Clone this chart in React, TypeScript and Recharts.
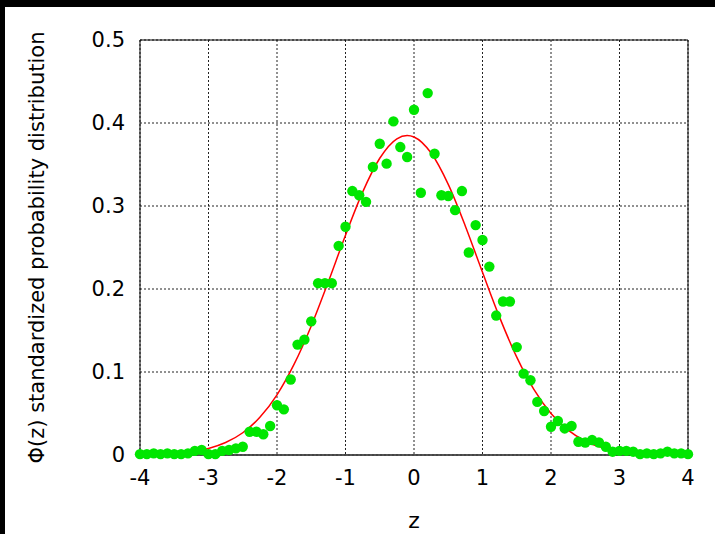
import React from "react";
import {
  ComposedChart,
  XAxis,
  YAxis,
  CartesianGrid,
  Scatter,
  Line,
  ReferenceArea,
} from "recharts";

// sampled points (z, phi)
const sampleZ = [
  -4.0, -3.9, -3.8, -3.7, -3.6, -3.5, -3.4, -3.3, -3.2, -3.1,
  -3.0, -2.9, -2.8, -2.7, -2.6, -2.5, -2.4, -2.3, -2.2, -2.1,
  -2.0, -1.9, -1.8, -1.7, -1.6, -1.5, -1.4, -1.3, -1.2, -1.1,
  -1.0, -0.9, -0.8, -0.7, -0.6, -0.5, -0.4, -0.3, -0.2, -0.1,
  0.0, 0.1, 0.2, 0.3, 0.4, 0.5, 0.6, 0.7, 0.8, 0.9,
  1.0, 1.1, 1.2, 1.3, 1.4, 1.5, 1.6, 1.7, 1.8, 1.9,
  2.0, 2.1, 2.2, 2.3, 2.4, 2.5, 2.6, 2.7, 2.8, 2.9,
  3.0, 3.1, 3.2, 3.3, 3.4, 3.5, 3.6, 3.7, 3.8, 3.9, 4.0,
];
const samplePhi = [
  0.001, 0.001, 0.002, 0.001, 0.002, 0.001, 0.001, 0.002, 0.005, 0.006,
  0.001, 0.001, 0.005, 0.006, 0.008, 0.010, 0.028, 0.028, 0.025, 0.035,
  0.060, 0.055, 0.091, 0.133, 0.139, 0.161, 0.207, 0.207, 0.207, 0.252,
  0.275, 0.318, 0.313, 0.305, 0.347, 0.375, 0.351, 0.402, 0.371, 0.359,
  0.416, 0.316, 0.436, 0.363, 0.313, 0.312, 0.295, 0.318, 0.244, 0.277,
  0.259, 0.227, 0.168, 0.185, 0.185, 0.130, 0.098, 0.090, 0.064, 0.053,
  0.034, 0.041, 0.032, 0.035, 0.016, 0.015, 0.018, 0.015, 0.010, 0.004,
  0.005, 0.005, 0.004, 0.001, 0.002, 0.001, 0.002, 0.004, 0.002, 0.002, 0.001,
];

// fitted curve
const fitZ = [
  -4.0, -3.75, -3.5, -3.25, -3.0, -2.75, -2.5, -2.25, -2.0, -1.75,
  -1.5, -1.25, -1.0, -0.75, -0.5, -0.25, -0.1, 0.0, 0.25, 0.5,
  0.75, 1.0, 1.25, 1.5, 1.75, 2.0, 2.25, 2.5, 2.75, 3.0,
  3.25, 3.5, 3.75, 4.0,
];
const fitPhi = [
  0.0003, 0.0008, 0.0018, 0.0039, 0.0079, 0.015, 0.0268, 0.0454, 0.0725, 0.1094,
  0.1555, 0.2089, 0.2648, 0.3167, 0.3575, 0.381, 0.385, 0.3832, 0.3638, 0.326,
  0.2757, 0.2201, 0.1658, 0.1179, 0.0791, 0.0501, 0.03, 0.0169, 0.009, 0.0045,
  0.0022, 0.001, 0.0004, 0.0002,
];

const xTicks = [-4, -3, -2, -1, 0, 1, 2, 3, 4];
const yTicks = [0, 0.1, 0.2, 0.3, 0.4, 0.5];

const samples = sampleZ.map((z, i) => ({ z, phi: samplePhi[i] }));
const fit = fitZ.map((z, i) => ({ z, fit: fitPhi[i] }));

const font = "'DejaVu Sans', sans-serif";

export default function App() {
  return (
    <div style={{ position: "absolute", left: 0, top: 0, width: 715, height: 534, background: "#fff", fontFamily: font }}>
      <ComposedChart
        width={715}
        height={534}
        margin={{ top: 40, right: 27, bottom: 0, left: 0 }}
      >
        <CartesianGrid stroke="#222" strokeDasharray="2 2" />
        <XAxis
          type="number"
          dataKey="z"
          domain={[-4, 4]}
          ticks={xTicks}
          height={79}
          tickLine={false}
          axisLine={{ stroke: "#444", strokeWidth: 1.5 }}
          tickSize={0}
          tickMargin={15}
          tick={{ fill: "#000", fontSize: 21, fontFamily: font }}
          label={{ value: "z", position: "insideBottom", offset: 6, fill: "#000", fontSize: 22, fontFamily: font }}
        />
        <YAxis
          type="number"
          domain={[0, 0.5]}
          ticks={yTicks}
          width={140}
          tickLine={false}
          axisLine={false}
          tickSize={0}
          tickMargin={15}
          tick={{ fill: "#000", fontSize: 21, fontFamily: font }}
          label={{
            value: "Φ(z) standardized probability distribution",
            angle: -90,
            position: "insideLeft",
            offset: 37,
            fill: "#000",
            fontSize: 21,
            fontFamily: font,
            style: { textAnchor: "middle" },
          }}
        />
        <ReferenceArea x1={-4} x2={4} y1={0} y2={0.5} fill="none" stroke="#000" strokeWidth={1} />
        <Scatter
          data={samples}
          dataKey="phi"
          isAnimationActive={false}
          shape={(p: any) => <circle cx={p.cx} cy={p.cy} r={5.2} fill="#00e600" />}
        />
        <Line
          data={fit}
          dataKey="fit"
          type="monotone"
          stroke="#ff0000"
          strokeWidth={1.5}
          dot={false}
          isAnimationActive={false}
        />
      </ComposedChart>
      <div style={{ position: "absolute", left: 0, top: 0, width: 715, height: 7, background: "#000" }} />
      <div style={{ position: "absolute", left: 0, top: 0, width: 5, height: 534, background: "#000" }} />
    </div>
  );
}
